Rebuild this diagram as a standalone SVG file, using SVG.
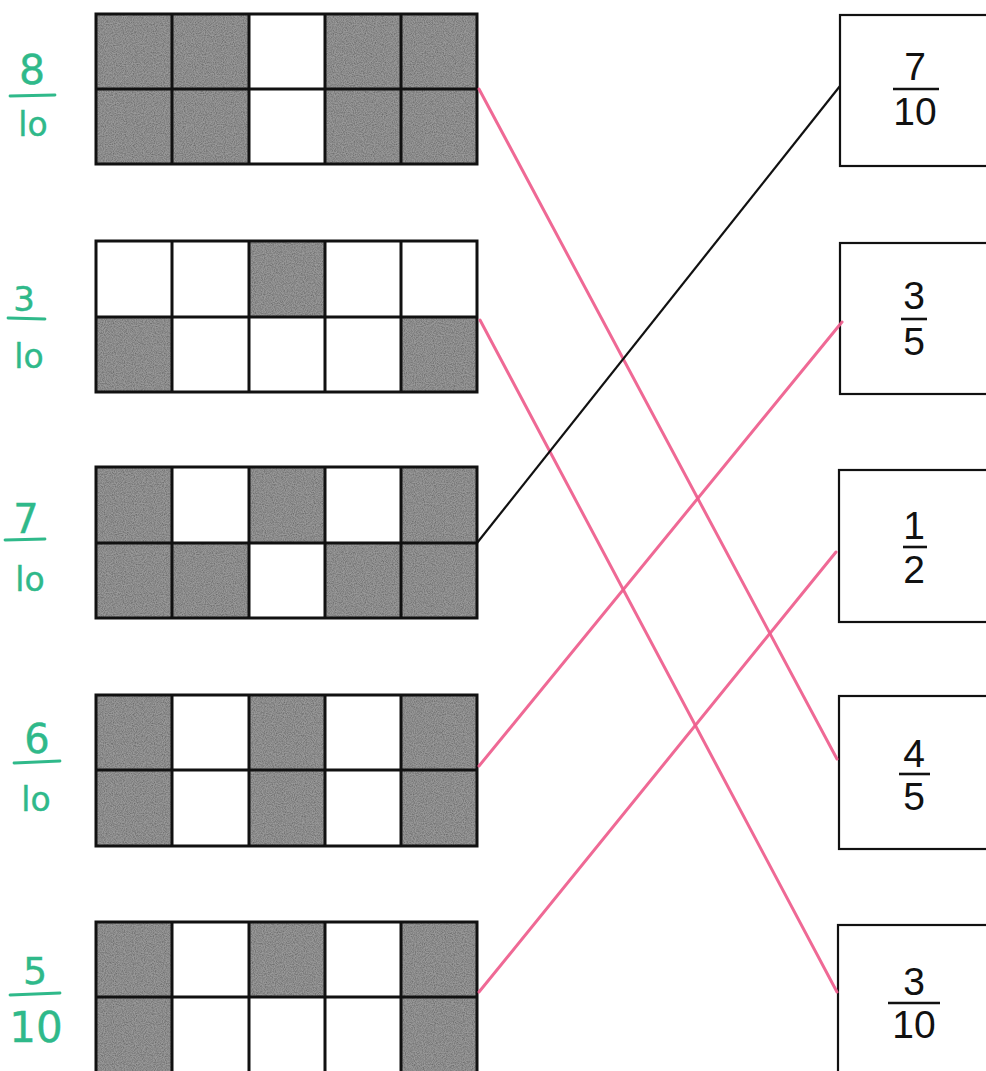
<svg xmlns="http://www.w3.org/2000/svg" width="986" height="1071" viewBox="0 0 986 1071">
<defs>
<filter id="grain" x="0" y="0" width="100%" height="100%">
<feTurbulence type="fractalNoise" baseFrequency="0.9" numOctaves="2" seed="3" result="n"/>
<feColorMatrix in="n" type="matrix" values="0 0 0 0 0.15  0 0 0 0 0.15  0 0 0 0 0.15  0 0 0 -1.8 1.25" result="d"/>
<feComposite in="d" in2="SourceGraphic" operator="in" result="dm"/>
<feMerge><feMergeNode in="SourceGraphic"/><feMergeNode in="dm"/></feMerge>
</filter>
</defs>
<style>
.s{fill:#999999;filter:url(#grain)}
.w{fill:#ffffff}
.gl{fill:none;stroke:#111;stroke-width:3}
.box{fill:#fff;stroke:#111;stroke-width:2.2}
.num{font-family:"Liberation Sans",Arial,sans-serif;font-size:39px;fill:#111;text-anchor:middle}
.bar{stroke:#111;stroke-width:2.6}
.hw{font-family:"DejaVu Sans",sans-serif;font-weight:normal;fill:#2fb98a;stroke:#2fb98a;stroke-width:0.4;text-anchor:middle}
.hbar{stroke:#2fb98a;stroke-width:2.8;stroke-linecap:round}
.pink{stroke:#ee5c8c;stroke-width:3;fill:none;stroke-linecap:round;opacity:0.92}
.blk{stroke:#111;stroke-width:2.2;fill:none}
</style>
<rect width="986" height="1071" fill="#fff"/>

<!-- Grid 1: 8/10 -->
<g id="grid1">
<rect class="s" x="96" y="14" width="76" height="75"/><rect class="s" x="172" y="14" width="77" height="75"/><rect class="w" x="249" y="14" width="76" height="75"/><rect class="s" x="325" y="14" width="76" height="75"/><rect class="s" x="401" y="14" width="76" height="75"/>
<rect class="s" x="96" y="89" width="76" height="75"/><rect class="s" x="172" y="89" width="77" height="75"/><rect class="w" x="249" y="89" width="76" height="75"/><rect class="s" x="325" y="89" width="76" height="75"/><rect class="s" x="401" y="89" width="76" height="75"/>
<path class="gl" d="M96 14H477V164H96Z M96 89H477 M172 14V164 M249 14V164 M325 14V164 M401 14V164"/>
</g>
<g id="label1">
<text class="hw" x="32" y="84" font-size="41">8</text>
<line class="hbar" x1="10" y1="96" x2="55" y2="95"/>
<text class="hw" x="33" y="136" font-size="33">lo</text>
</g>

<!-- Grid 2: 3/10 -->
<g id="grid2">
<rect class="w" x="96" y="241" width="76" height="76"/><rect class="w" x="172" y="241" width="77" height="76"/><rect class="s" x="249" y="241" width="76" height="76"/><rect class="w" x="325" y="241" width="76" height="76"/><rect class="w" x="401" y="241" width="76" height="76"/>
<rect class="s" x="96" y="317" width="76" height="75"/><rect class="w" x="172" y="317" width="77" height="75"/><rect class="w" x="249" y="317" width="76" height="75"/><rect class="w" x="325" y="317" width="76" height="75"/><rect class="s" x="401" y="317" width="76" height="75"/>
<path class="gl" d="M96 241H477V392H96Z M96 317H477 M172 241V392 M249 241V392 M325 241V392 M401 241V392"/>
</g>
<g id="label2">
<text class="hw" x="24" y="311" font-size="34">3</text>
<line class="hbar" x1="8" y1="318" x2="45" y2="319"/>
<text class="hw" x="29" y="368" font-size="33">lo</text>
</g>

<!-- Grid 3: 7/10 -->
<g id="grid3">
<rect class="s" x="96" y="467" width="76" height="76"/><rect class="w" x="172" y="467" width="77" height="76"/><rect class="s" x="249" y="467" width="76" height="76"/><rect class="w" x="325" y="467" width="76" height="76"/><rect class="s" x="401" y="467" width="76" height="76"/>
<rect class="s" x="96" y="543" width="76" height="75"/><rect class="s" x="172" y="543" width="77" height="75"/><rect class="w" x="249" y="543" width="76" height="75"/><rect class="s" x="325" y="543" width="76" height="75"/><rect class="s" x="401" y="543" width="76" height="75"/>
<path class="gl" d="M96 467H477V618H96Z M96 543H477 M172 467V618 M249 467V618 M325 467V618 M401 467V618"/>
</g>
<g id="label3">
<text class="hw" x="26" y="533" font-size="40">7</text>
<line class="hbar" x1="5" y1="540" x2="45" y2="539"/>
<text class="hw" x="30" y="591" font-size="33">lo</text>
</g>

<!-- Grid 4: 6/10 -->
<g id="grid4">
<rect class="s" x="96" y="695" width="76" height="75"/><rect class="w" x="172" y="695" width="77" height="75"/><rect class="s" x="249" y="695" width="76" height="75"/><rect class="w" x="325" y="695" width="76" height="75"/><rect class="s" x="401" y="695" width="76" height="75"/>
<rect class="s" x="96" y="770" width="76" height="76"/><rect class="w" x="172" y="770" width="77" height="76"/><rect class="s" x="249" y="770" width="76" height="76"/><rect class="w" x="325" y="770" width="76" height="76"/><rect class="s" x="401" y="770" width="76" height="76"/>
<path class="gl" d="M96 695H477V846H96Z M96 770H477 M172 695V846 M249 695V846 M325 695V846 M401 695V846"/>
</g>
<g id="label4">
<text class="hw" x="37" y="753" font-size="40">6</text>
<line class="hbar" x1="14" y1="763" x2="60" y2="761"/>
<text class="hw" x="36" y="811" font-size="33">lo</text>
</g>

<!-- Grid 5: 5/10 -->
<g id="grid5">
<rect class="s" x="96" y="922" width="76" height="75"/><rect class="w" x="172" y="922" width="77" height="75"/><rect class="s" x="249" y="922" width="76" height="75"/><rect class="w" x="325" y="922" width="76" height="75"/><rect class="s" x="401" y="922" width="76" height="75"/>
<rect class="s" x="96" y="997" width="76" height="80"/><rect class="w" x="172" y="997" width="77" height="80"/><rect class="w" x="249" y="997" width="76" height="80"/><rect class="w" x="325" y="997" width="76" height="80"/><rect class="s" x="401" y="997" width="76" height="80"/>
<path class="gl" d="M96 1077V922H477V1077 M96 997H477 M172 922V1077 M249 922V1077 M325 922V1077 M401 922V1077"/>
</g>
<g id="label5">
<text class="hw" x="35" y="984" font-size="38">5</text>
<line class="hbar" x1="10" y1="995" x2="60" y2="993"/>
<text class="hw" x="36" y="1042" font-size="42">10</text>
</g>

<!-- Right answer boxes -->
<g id="box1">
<rect class="box" x="840" y="15" width="160" height="151"/>
<text class="num" x="915" y="80">7</text>
<line class="bar" x1="893" y1="89" x2="939" y2="89"/>
<text class="num" x="915" y="125">10</text>
</g>
<g id="box2">
<rect class="box" x="840" y="243" width="160" height="151"/>
<text class="num" x="914" y="309">3</text>
<line class="bar" x1="901" y1="319" x2="927" y2="319"/>
<text class="num" x="914" y="355">5</text>
</g>
<g id="box3">
<rect class="box" x="839" y="470" width="160" height="152"/>
<text class="num" x="914" y="539">1</text>
<line class="bar" x1="903" y1="547" x2="927" y2="547"/>
<text class="num" x="914" y="583">2</text>
</g>
<g id="box4">
<rect class="box" x="839" y="696" width="160" height="153"/>
<text class="num" x="914" y="767">4</text>
<line class="bar" x1="899" y1="774" x2="930" y2="774"/>
<text class="num" x="914" y="810">5</text>
</g>
<g id="box5">
<rect class="box" x="838" y="925" width="160" height="160"/>
<text class="num" x="914" y="995">3</text>
<line class="bar" x1="888" y1="1003" x2="940" y2="1003"/>
<text class="num" x="914" y="1038">10</text>
</g>

<!-- Connectors -->
<g id="connectors">
<line class="pink" x1="479" y1="89" x2="837" y2="759"/>
<line class="pink" x1="480" y1="320" x2="837" y2="992"/>
<line class="blk" x1="477" y1="543" x2="840" y2="86"/>
<line class="pink" x1="479" y1="766" x2="842" y2="322"/>
<line class="pink" x1="479" y1="992" x2="836" y2="552"/>
</g>
</svg>
